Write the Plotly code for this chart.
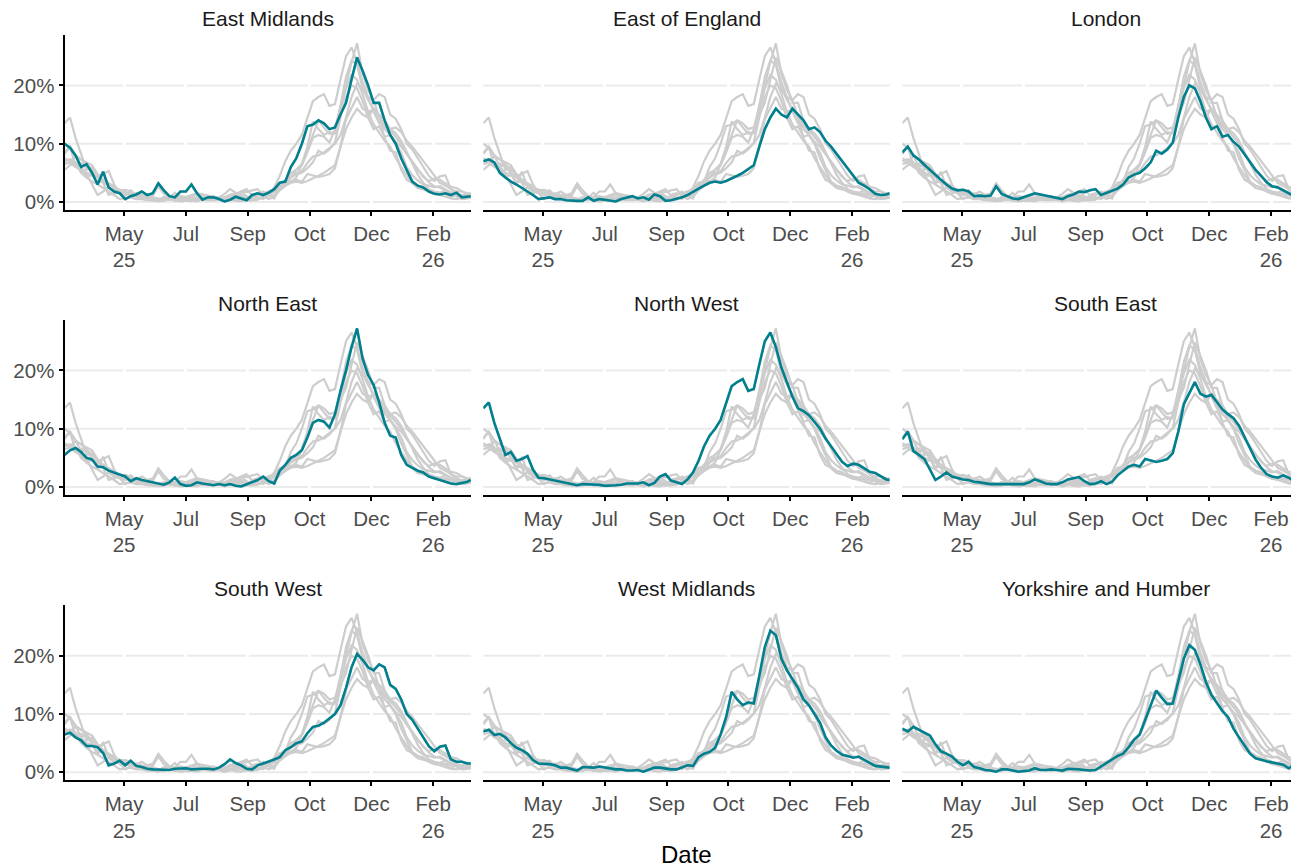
"""
Positivity by region: every region in grey, the facet's own region in teal.
"""

import datetime as dt

import plotly.graph_objects as go

# data: one value every 5 days from 19 Mar 2025, last point on 22 Mar 2026
START = dt.datetime(2025, 3, 19)
day_offsets = list(range(0, 366, 5)) + [368]
dates = [START + dt.timedelta(days=d) for d in day_offsets]

regions = [
    "East Midlands", "East of England", "London",
    "North East", "North West", "South East",
    "South West", "West Midlands", "Yorkshire and Humber",
]

east_midlands = [
    10, 9.3, 8, 6, 6.5, 5, 3, 5.2, 2.5, 1.8,
    1.5, 0.5, 1, 1.3, 1.8, 1.2, 1.5, 3.2, 2, 1,
    0.8, 1.8, 1.8, 3, 1.5, 0.4, 0.8, 0.8, 0.5, 0.1,
    0.4, 0.9, 0.6, 0.3, 1.2, 1.5, 1.2, 1.6, 2.2, 3.3,
    3.5, 6, 7.5, 10, 13, 13.3, 14, 13.5, 12.5, 12.8,
    15, 17, 21, 24.8, 22.5, 20, 17, 17, 14, 11.5,
    10, 7.5, 5.5, 3.5, 2.8, 2.5, 1.8, 1.4, 1.3, 1.5,
    1.2, 1.6, 0.8, 1, 1,
]
east_of_england = [
    7, 7.3, 6.8, 5, 4.2, 3.5, 3, 2.4, 1.9, 1.2,
    0.5, 0.6, 0.8, 0.5, 0.5, 0.3, 0.2, 0.2, 0.2, 0.8,
    0.2, 0.5, 0.4, 0.2, 0.1, 0.5, 0.8, 1, 0.6, 0.8,
    0.4, 1.3, 1, 0.2, 0.3, 0.5, 0.8, 1.2, 1.8, 2.3,
    2.8, 3.3, 3.5, 3.3, 3.6, 4, 4.5, 5, 5.6, 6.3,
    9.5, 12.5, 14.5, 16, 15, 14.5, 16, 15, 14, 12.5,
    12.8, 12, 10.5, 9.5, 8.3, 7, 5.8, 4.5, 3.3, 2.8,
    2.2, 1.4, 1.2, 1.3, 1.5,
]
london = [
    8.5, 9.5, 8, 7.3, 6.4, 5.5, 4.6, 3.8, 3, 2.3,
    2, 2.1, 1.8, 1, 1.1, 1, 1.1, 2.7, 1.4, 1,
    0.6, 0.5, 0.8, 1.2, 1.5, 1.3, 1.1, 0.8, 0.7, 0.5,
    1, 1.3, 1.8, 1.7, 2, 2.2, 1.2, 1.6, 2, 2.3,
    3, 4.2, 4.7, 5, 5.8, 6.8, 8.8, 8.3, 9, 10.2,
    14.5, 18, 20, 19.5, 17.3, 14.5, 12.5, 13, 11.2, 11.5,
    10.3, 9.5, 8.2, 6.8, 5.5, 4.5, 3.4, 2.7, 2.5, 2,
    1.5, 1, 0.5, 0.6, 0.7,
]
north_east = [
    5.5, 6.3, 6.7, 6, 5, 4.7, 3.5, 3.4, 2.8, 2.5,
    2.2, 1.8, 1, 1.5, 1.2, 1, 0.9, 0.7, 0.4, 0.8,
    1.6, 0.5, 0.2, 0.3, 0.8, 0.6, 0.4, 0.3, 0.5, 0.3,
    0.5, 0.2, 0.1, 0.5, 0.8, 1.2, 1.8, 1, 0.6, 2.8,
    3.8, 5, 5.5, 6.3, 8.5, 11, 11.5, 11.2, 10.2, 12.5,
    16.5, 20, 24, 27.2, 22, 19.2, 17.5, 14.5, 11, 8.8,
    8.5, 5.5, 3.8, 3.3, 2.8, 2.5, 1.8, 1.5, 1.2, 0.9,
    0.6, 0.5, 0.7, 0.9, 1.2,
]
north_west = [
    13.5, 14.5, 11, 8.3, 5.5, 6, 4.5, 4.8, 5.3, 3,
    1.6, 1.5, 1.3, 1, 0.8, 0.6, 0.4, 0.3, 0.5, 0.5,
    0.4, 0.4, 0.2, 0.2, 0.3, 0.4, 0.6, 0.6, 0.6, 0.8,
    0.3, 0.7, 1.8, 2.2, 1.1, 0.8, 0.5, 1.3, 2.5, 4.5,
    7, 8.8, 10, 11.5, 14.5, 17.3, 18, 18.5, 16.5, 16.8,
    21, 25, 26.5, 24, 20.5, 18, 15.5, 13.5, 13, 12.3,
    11.2, 10, 8.3, 7, 5.5, 4.3, 3.6, 4, 3.8, 3.2,
    2.6, 2.4, 1.8, 1.3, 1.2,
]
south_east = [
    8.2, 9.5, 6.2, 5.5, 4.8, 3, 1.2, 1.8, 2.5, 1.8,
    1.5, 1.3, 1.2, 0.9, 0.8, 0.6, 0.5, 0.5, 0.5, 0.5,
    0.4, 0.4, 0.5, 0.8, 1.3, 1, 0.6, 0.5, 0.5, 0.8,
    1.3, 1.5, 1.7, 1, 0.5, 0.6, 1, 0.5, 0.9, 2,
    2.8, 3.5, 3.8, 3.5, 4.8, 4.5, 4.3, 4.5, 4.8, 5.8,
    9.5, 14.2, 16, 18, 16, 15.5, 15.8, 14.5, 13.3, 12.5,
    11.8, 10.5, 8.5, 6.5, 4.7, 3.3, 2.2, 1.8, 1.6, 2,
    1.6, 1, 0.6, 0.7, 0.7,
]
south_west = [
    6.5, 6.8, 6, 5.5, 4.5, 4.5, 4.3, 3.3, 1.2, 1.5,
    2, 1.2, 2, 1.1, 0.9, 0.6, 0.5, 0.5, 0.5, 0.4,
    0.6, 0.7, 0.7, 0.5, 0.6, 0.6, 0.6, 0.5, 0.8, 1.4,
    2.2, 1.6, 1.2, 0.6, 0.5, 1.2, 1.5, 1.8, 2.2, 2.6,
    3.8, 4.3, 5, 5.3, 6.7, 7.8, 8, 8.5, 9.3, 10,
    11.5, 14.5, 18, 20.3, 19.3, 18, 17.5, 18.5, 18, 15,
    14.3, 12.5, 10, 9, 7.5, 6, 4.5, 3.6, 4.4, 4.6,
    2.2, 1.8, 1.8, 1.5, 1.5,
]
west_midlands = [
    7, 7.3, 6.4, 6.6, 6, 5, 4.2, 3.8, 3.2, 2.1,
    1.5, 1.5, 1.4, 1.2, 0.8, 0.8, 0.5, 0.3, 0.9, 0.8,
    0.8, 1, 0.8, 0.6, 0.5, 0.5, 0.3, 0.3, 0.4, 0.1,
    0.5, 0.8, 0.8, 0.6, 0.5, 0.5, 0.8, 1.2, 1.1, 2.6,
    3.2, 3.5, 4.2, 6.5, 9.5, 13.8, 12.5, 11.5, 12, 11.8,
    16.5, 21.5, 24.3, 23.5, 19.5, 17.5, 16, 14.5, 12.5, 11.5,
    10, 8.5, 6, 4.6, 3.7, 3, 2.8, 2.5, 2.7, 2.1,
    1.6, 1.1, 1, 0.9, 0.8,
]
yorkshire_and_humber = [
    7.5, 7, 7.8, 7.3, 6.9, 6.3, 4.8, 3.6, 3.2, 2.7,
    1.8, 1.2, 1.8, 0.9, 0.7, 0.4, 0.3, 0.1, 0.5, 0.5,
    0.3, 0.1, 0.2, 0.3, 0.7, 0.4, 0.4, 0.5, 0.4, 0.3,
    0.6, 0.6, 0.5, 0.4, 0.3, 0.4, 1, 1.6, 2.3, 2.8,
    3.2, 4.3, 5.6, 6.5, 9, 11.5, 14, 12.8, 11.7, 11.8,
    15.5, 19.5, 21.8, 21, 18.5, 15.5, 13.3, 12, 10.5, 9.5,
    7.5, 6, 4.5, 3.2, 2.4, 2.1, 1.9, 1.7, 1.5, 1.3,
    0.7, 1.3, 0.6, 0.8, 0.8,
]

series = dict(zip(regions, [
    east_midlands, east_of_england, london,
    north_east, north_west, south_east,
    south_west, west_midlands, yorkshire_and_humber,
]))

tick_dates = ["2025-05-12", "2025-07-07", "2025-09-01",
              "2025-10-27", "2025-12-22", "2026-02-16"]
tick_text = ["May<br>25", "Jul", "Sep", "Oct", "Dec", "Feb<br>26"]
y_ticks = [0, 10, 20]
y_text = ["0%", "10%", "20%"]

# layout, in figure pixels (the page puts the figure 8px in from the corner)
W, H = 1291, 860
COL_LEFT = [56.5, 475.3, 894.3]
ROW_TOP = [27, 313, 599.3]
PANEL_W, PANEL_H = 406.5, 175.7
SPAN_DAYS = 368.2
Y_RANGE = [-1.37, 28.66]

FONT = "Liberation Sans, Arial, sans-serif"
TEAL = "#00808F"
GREY = "#CDCDCD"
TICK_FONT = {"size": 20.5, "color": "#4D4D4D", "family": FONT}

fig = go.Figure()
layout = {}
shapes = []
annotations = []

for i, region in enumerate(regions):
    row, col = divmod(i, 3)
    sfx = "" if i == 0 else str(i + 1)

    for other in regions:
        fig.add_trace(go.Scatter(
            x=dates, y=series[other], mode="lines",
            line={"color": GREY, "width": 2.2},
            xaxis="x" + sfx, yaxis="y" + sfx,
            showlegend=False, hoverinfo="skip",
        ))
    fig.add_trace(go.Scatter(
        x=dates, y=series[region], mode="lines",
        line={"color": TEAL, "width": 2.6},
        xaxis="x" + sfx, yaxis="y" + sfx,
        showlegend=False, name=region,
    ))

    left = COL_LEFT[col]
    right = min(left + PANEL_W, W)
    end = START + dt.timedelta(days=SPAN_DAYS * (right - left) / PANEL_W)
    top = ROW_TOP[row]

    # x gridlines are white: they only show as breaks in the grey y gridlines
    layout["xaxis" + sfx] = {
        "type": "date",
        "domain": [left / W, right / W],
        "anchor": "y" + sfx,
        "range": [START, end],
        "tickvals": tick_dates, "ticktext": tick_text,
        "ticks": "outside", "ticklen": 4, "tickwidth": 1.5, "tickcolor": "black",
        "tickfont": TICK_FONT,
        "showline": True, "linecolor": "black", "linewidth": 2,
        "showgrid": True, "gridcolor": "white", "gridwidth": 3,
        "zeroline": False,
    }
    layout["yaxis" + sfx] = {
        "domain": [1 - (top + PANEL_H) / H, 1 - top / H],
        "anchor": "x" + sfx,
        "range": Y_RANGE,
        "tickvals": y_ticks, "ticktext": y_text,
        "showticklabels": col == 0,
        "ticks": "outside" if col == 0 else "",
        "ticklen": 4, "tickwidth": 1.5, "tickcolor": "black",
        "tickfont": TICK_FONT,
        "showline": col == 0, "linecolor": "black", "linewidth": 2,
        "showgrid": False, "zeroline": False,
    }

    # grey horizontal gridlines, drawn under the (white) x gridlines
    for v in y_ticks:
        shapes.append({
            "type": "line", "layer": "below",
            "xref": "x" + sfx + " domain", "yref": "y" + sfx,
            "x0": 0, "x1": 1, "y0": v, "y1": v,
            "line": {"color": "#EBEBEB", "width": 2},
        })

    annotations.append({
        "text": region, "showarrow": False,
        "xref": "paper", "yref": "paper",
        "x": (left + PANEL_W / 2) / W, "y": 1 - top / H,
        "xanchor": "center", "yanchor": "bottom", "yshift": 4, "borderpad": 0,
        "font": {"size": 21, "color": "#1A1A1A", "family": FONT},
    })

annotations.append({
    "text": "Date", "showarrow": False,
    "xref": "paper", "yref": "paper",
    "x": (COL_LEFT[0] + (COL_LEFT[2] + PANEL_W - COL_LEFT[0]) / 2) / W,
    "y": 1 - 849 / H,
    "xanchor": "center", "yanchor": "middle",
    "font": {"size": 24, "color": "black", "family": FONT},
})

fig.update_layout(
    width=W, height=H, autosize=False,
    margin={"l": 0, "r": 0, "t": 0, "b": 0},
    paper_bgcolor="white", plot_bgcolor="white",
    font={"family": FONT},
    shapes=shapes, annotations=annotations,
    **layout,
)

fig.write_html("out.html")
